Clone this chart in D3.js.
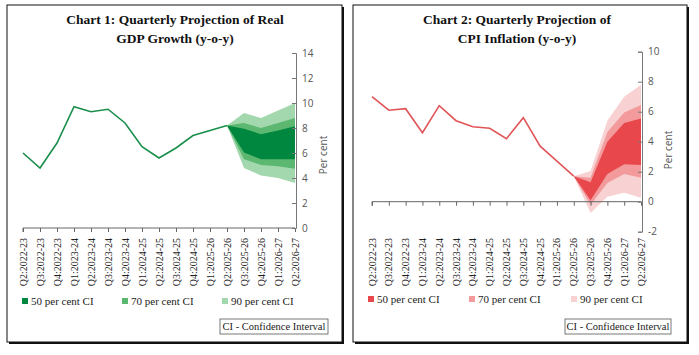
<!DOCTYPE html>
<html><head><meta charset="utf-8">
<script src="https://cdn.jsdelivr.net/npm/d3@7"></script>
<style>body{margin:0;background:#fff}svg{display:block}</style>
</head><body>
<svg id="c" width="699" height="355"></svg>
<script>
const categories = ["Q2:2022-23","Q3:2022-23","Q4:2022-23","Q1:2023-24","Q2:2023-24","Q3:2023-24","Q4:2023-24","Q1:2024-25","Q2:2024-25","Q3:2024-25","Q4:2024-25","Q1:2025-26","Q2:2025-26","Q3:2025-26","Q4:2025-26","Q1:2026-27","Q2:2026-27"];
const fanCategories = ["Q2:2025-26","Q3:2025-26","Q4:2025-26","Q1:2026-27","Q2:2026-27"];

const gdpActual = [6.0, 4.8, 6.8, 9.7, 9.3, 9.5, 8.4, 6.5, 5.6, 6.4, 7.4, 7.8, 8.2];
const gdpUpper90 = [8.2, 9.2, 8.8, 9.4, 10.0];
const gdpUpper70 = [8.2, 8.4, 8.0, 8.4, 8.8];
const gdpUpper50 = [8.2, 7.95, 7.5, 7.8, 8.15];
const gdpLower50 = [8.2, 6.05, 5.5, 5.5, 5.5];
const gdpLower70 = [8.2, 5.5, 5.05, 4.95, 4.75];
const gdpLower90 = [8.2, 4.8, 4.2, 4.0, 3.6];
const gdpTicks = [0, 2, 4, 6, 8, 10, 12, 14];

const cpiActual = [7.0, 6.1, 6.2, 4.6, 6.4, 5.4, 5.0, 4.9, 4.2, 5.6, 3.7, 2.7, 1.7];
const cpiUpper90 = [1.7, 2.05, 5.4, 7.0, 7.8];
const cpiUpper70 = [1.7, 1.6, 4.65, 5.95, 6.45];
const cpiUpper50 = [1.7, 1.3, 4.0, 5.25, 5.55];
const cpiLower50 = [1.7, 0.1, 1.85, 2.5, 2.45];
const cpiLower70 = [1.7, -0.2, 1.25, 1.85, 1.6];
const cpiLower90 = [1.7, -0.75, 0.33, 0.6, 0.27];
const cpiTicks = [-2, 0, 2, 4, 6, 8, 10];

const legendLabels = ["50 per cent CI", "70 per cent CI", "90 per cent CI"];

const svg = d3.select("#c");
const serif = "'Liberation Serif', 'DejaVu Serif', serif";
const sans = "'Open Sans', 'Liberation Sans', sans-serif";

function panel(o) {
  const g = svg.append("g");
  // border with shadow
  g.append("rect").attr("x", o.px0 + 2).attr("y", o.py0 + 2).attr("width", o.px1 - o.px0).attr("height", o.py1 - o.py0).attr("fill", "#111");
  g.append("rect").attr("x", o.px0).attr("y", o.py0).attr("width", o.px1 - o.px0).attr("height", o.py1 - o.py0).attr("fill", "#fff").attr("stroke", "#111").attr("stroke-width", 1);

  // title
  const t = g.append("text").attr("x", o.tx).attr("text-anchor", "middle").attr("font-family", serif).attr("font-weight", "bold").attr("font-size", 13.5).attr("fill", "#111");
  t.append("tspan").attr("x", o.tx).attr("y", 24).text(o.title[0]);
  t.append("tspan").attr("x", o.tx).attr("y", 43).text(o.title[1]);

  const x = d3.scalePoint().domain(categories).range([o.x0, o.x1]);
  const y = d3.scaleLinear().domain(o.domain).range([o.y0, o.y1]);

  // fan bands
  const fanIdx = fanCategories.map((c, i) => i);
  const band = (up, lo) => d3.area().x(i => x(fanCategories[i])).y0(i => y(lo[i])).y1(i => y(up[i]));
  g.append("path").attr("d", band(o.u90, o.l90)(fanIdx)).attr("fill", o.colors[2]);
  g.append("path").attr("d", band(o.u70, o.l70)(fanIdx)).attr("fill", o.colors[1]);
  g.append("path").attr("d", band(o.u50, o.l50)(fanIdx)).attr("fill", o.colors[0]);

  // x axis at zero
  const xa = g.append("g").attr("transform", `translate(0,${y(0)})`)
    .call(d3.axisBottom(x).tickSize(4).tickFormat(""));
  xa.select(".domain").attr("stroke", "#666").attr("d", `M${o.x0},4V0H${o.x1}`);
  xa.selectAll(".tick line").attr("stroke", "#666");

  // category labels
  g.append("g").selectAll("text").data(categories).join("text")
    .attr("transform", d => `translate(${x(d) + 3.5},${o.labelTop}) rotate(-90)`)
    .attr("text-anchor", "end").attr("font-family", serif).attr("font-size", 10).attr("fill", "#222").text(d => d);

  // line
  g.append("path").datum(o.actual)
    .attr("d", d3.line().x((d, i) => x(categories[i])).y(d => y(d)))
    .attr("fill", "none").attr("stroke", o.lineColor).attr("stroke-width", 1.6);

  // y axis on right, ticks inward
  const minor = d3.range(o.domain[0], o.domain[1] + 0.001, 0.4);
  const ya = g.append("g").attr("transform", `translate(${o.x1 + 1},0)`);
  ya.call(d3.axisLeft(y).tickValues(minor).tickSize(2).tickFormat(""));
  ya.call(d3.axisLeft(y).tickValues(o.ticks).tickSize(4).tickFormat(""));
  ya.selectAll("path.domain").attr("stroke", "#777");
  ya.selectAll(".tick line").attr("stroke", "#777");
  ya.selectAll(".tick text").remove();
  g.append("g").selectAll("text").data(o.ticks).join("text")
    .attr("x", o.x1 + 7).attr("y", d => y(d) + 3.5)
    .attr("font-family", sans).attr("font-size", 10).attr("fill", "#555").text(d => d);

  g.append("text").attr("transform", `translate(${o.unitX},${o.unitY}) rotate(-90)`)
    .attr("text-anchor", "middle").attr("font-family", sans).attr("font-size", 10).attr("fill", "#555").text("Per cent");

  // legend
  legendLabels.forEach((l, i) => {
    const lx = o.legX[i];
    g.append("rect").attr("x", lx).attr("y", o.legY - 7).attr("width", 6).attr("height", 6).attr("fill", o.colors[i]);
    g.append("text").attr("x", lx + 9).attr("y", o.legY).attr("font-family", serif).attr("font-size", 11).attr("fill", "#222").text(l);
  });

  // CI box
  g.append("rect").attr("x", o.box[0]).attr("y", 319).attr("width", o.box[1] - o.box[0]).attr("height", 15).attr("fill", "#fff").attr("stroke", "#555").attr("stroke-width", 0.8);
  g.append("text").attr("x", (o.box[0] + o.box[1]) / 2).attr("y", 330).attr("text-anchor", "middle").attr("font-family", serif).attr("font-size", 10.5).attr("fill", "#222").text("CI - Confidence Interval");
}

panel({
  px0: 7, py0: 5, px1: 342, py1: 342,
  tx: 175, title: ["Chart 1: Quarterly Projection of Real", "GDP Growth (y-o-y)"],
  x0: 23, x1: 295, y0: 228, y1: 53, domain: [0, 14], ticks: gdpTicks,
  actual: gdpActual, u90: gdpUpper90, u70: gdpUpper70, u50: gdpUpper50, l50: gdpLower50, l70: gdpLower70, l90: gdpLower90,
  colors: ["#00873f", "#5cb870", "#a3d8ae"], lineColor: "#1a8f4c",
  labelTop: 238, unitX: 327, unitY: 155,
  legX: [22, 122, 222], legY: 305, box: [220, 328]
});

panel({
  px0: 353, py0: 5, px1: 687, py1: 342,
  tx: 517, title: ["Chart 2: Quarterly Projection of", "CPI Inflation (y-o-y)"],
  x0: 372, x1: 641, y0: 231.7, y1: 51.7, domain: [-2, 10], ticks: cpiTicks,
  actual: cpiActual, u90: cpiUpper90, u70: cpiUpper70, u50: cpiUpper50, l50: cpiLower50, l70: cpiLower70, l90: cpiLower90,
  colors: ["#e8474c", "#f29a9c", "#f8d2d3"], lineColor: "#e05558",
  labelTop: 238, unitX: 672, unitY: 150,
  legX: [368, 469, 571], legY: 303, box: [565, 671]
});
</script>
</body></html>
